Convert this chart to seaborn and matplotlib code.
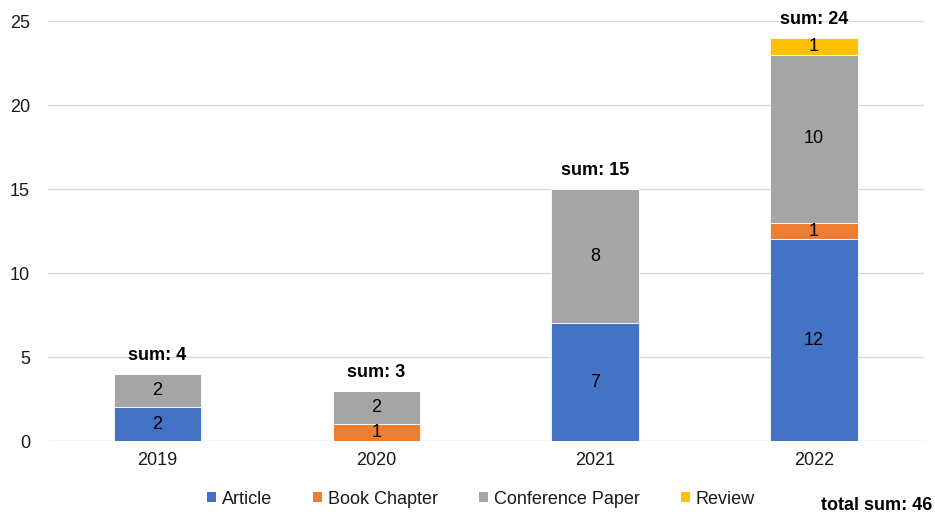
import matplotlib
matplotlib.use("Agg")
import matplotlib.pyplot as plt
from matplotlib.patches import Patch
import seaborn as sns
import pandas as pd
import numpy as np

years = ["2019", "2020", "2021", "2022"]
article = [2, 0, 7, 12]
book_chapter = [0, 1, 0, 1]
conference_paper = [2, 2, 8, 10]
review = [0, 0, 0, 1]

series_names = ["Article", "Book Chapter", "Conference Paper", "Review"]
series_values = [article, book_chapter, conference_paper, review]
colors = ["#4472C4", "#ED7D31", "#A5A5A5", "#FFC000"]

sns.set_theme(style="white")
plt.rcParams["font.family"] = ["Liberation Sans", "DejaVu Sans"]

FS = 13

fig = plt.figure(figsize=(9.35, 5.12), dpi=100)
ax = fig.add_axes([48 / 935, 71 / 512, 875.5 / 935, 420 / 512])

bottom = np.zeros(len(years))
for name, vals, col in zip(series_names, series_values, colors):
    df = pd.DataFrame({"year": years, "count": vals})
    sns.barplot(data=df, x="year", y="count", color=col, width=0.4,
                bottom=bottom, ax=ax, edgecolor="#FFFFFF", linewidth=0.6,
                saturation=1)
    for i, v in enumerate(vals):
        if v > 0:
            ax.text(i, bottom[i] + v / 2, str(v), ha="center", va="center",
                    fontsize=FS, color="#000000")
    bottom = bottom + np.array(vals)

totals = bottom
for i, t in enumerate(totals):
    ax.annotate(f"sum: {int(t)}", (i, t), xytext=(0, 7), textcoords="offset points",
                ha="center", va="bottom", fontsize=FS, fontweight="bold", color="#000000")

ax.set_ylim(0, 25)
ax.set_xlim(-0.5, 3.5)
ax.set_yticks(range(0, 26, 5))
ax.yaxis.grid(True, color="#D9D9D9", linewidth=1)
ax.set_axisbelow(True)
for s in ax.spines.values():
    s.set_visible(False)
ax.tick_params(axis="both", length=0, labelsize=FS, labelcolor="#1a1a1a")
ax.tick_params(axis="y", pad=13)
ax.tick_params(axis="x", pad=8)
ax.set_xlabel("")
ax.set_ylabel("")

handles = [Patch(facecolor=c, edgecolor="none") for c in colors]
fig.legend(handles, series_names, loc="center", bbox_to_anchor=(481 / 935, 1 - 499 / 512),
           ncol=4, frameon=False, fontsize=FS, handlelength=0.5, handleheight=0.5,
           handletextpad=0.3, columnspacing=2.3, labelcolor="#1a1a1a")

fig.text(932 / 935, 1 - 505 / 512, f"total sum: {int(totals.sum())}", ha="right", va="center",
         fontsize=FS, fontweight="bold", color="#000000")

fig.savefig("out.png", dpi=100)
